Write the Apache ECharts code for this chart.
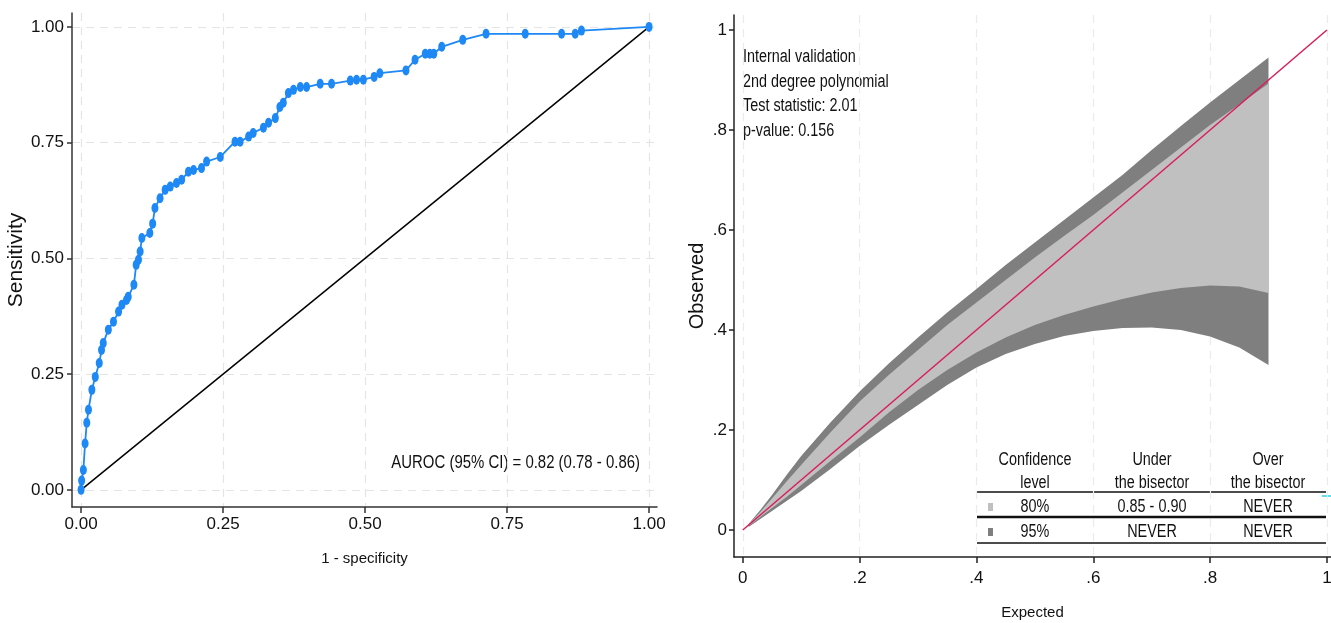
<!DOCTYPE html>
<html>
<head>
<meta charset="utf-8">
<script src="https://cdn.jsdelivr.net/npm/echarts@6/dist/echarts.min.js"></script>
<style>
  html, body { margin: 0; padding: 0; background: #fff; }
  #main { width: 1331px; height: 623px; }
</style>
</head>
<body>
<div id="main"></div>
<script>
// ROC curve (left)
var fpr = [0, 0.001, 0.004, 0.007, 0.01, 0.013, 0.019, 0.025, 0.032, 0.036, 0.039, 0.048, 0.057, 0.066, 0.072, 0.08, 0.083, 0.093, 0.097, 0.101, 0.104, 0.107, 0.121, 0.126, 0.13, 0.139, 0.148, 0.157, 0.168, 0.177, 0.189, 0.198, 0.212, 0.221, 0.245, 0.271, 0.28, 0.295, 0.303, 0.321, 0.33, 0.342, 0.35, 0.356, 0.365, 0.374, 0.386, 0.397, 0.421, 0.441, 0.474, 0.485, 0.497, 0.516, 0.526, 0.572, 0.588, 0.606, 0.614, 0.621, 0.635, 0.672, 0.713, 0.782, 0.846, 0.87, 0.881, 1]
var tpr = [0, 0.02, 0.043, 0.1, 0.145, 0.173, 0.216, 0.244, 0.274, 0.302, 0.317, 0.346, 0.363, 0.385, 0.4, 0.41, 0.417, 0.443, 0.486, 0.497, 0.515, 0.544, 0.555, 0.575, 0.609, 0.63, 0.648, 0.655, 0.663, 0.67, 0.687, 0.691, 0.695, 0.709, 0.719, 0.752, 0.752, 0.763, 0.771, 0.782, 0.793, 0.803, 0.827, 0.836, 0.857, 0.864, 0.87, 0.87, 0.877, 0.877, 0.884, 0.886, 0.886, 0.892, 0.9, 0.906, 0.929, 0.942, 0.942, 0.942, 0.957, 0.972, 0.985, 0.985, 0.985, 0.985, 0.992, 1]
var refX = [0, 1]
var refY = [0, 1]
var rocTicks = [0, 0.25, 0.5, 0.75, 1]
var aurocText = 'AUROC (95% CI) = 0.82 (0.78 - 0.86)'

// calibration belt (right)
var beltX = [0.01, 0.03, 0.05, 0.075, 0.1, 0.15, 0.2, 0.25, 0.3, 0.35, 0.4, 0.45, 0.5, 0.55, 0.6, 0.65, 0.7, 0.75, 0.8, 0.85, 0.9]
var upper95 = [0.012, 0.04, 0.07, 0.11, 0.148, 0.215, 0.277, 0.333, 0.385, 0.435, 0.482, 0.53, 0.575, 0.62, 0.665, 0.71, 0.76, 0.808, 0.855, 0.9, 0.945]
var upper80 = [0.011, 0.036, 0.063, 0.097, 0.13, 0.195, 0.257, 0.31, 0.36, 0.41, 0.455, 0.5, 0.545, 0.588, 0.63, 0.675, 0.72, 0.765, 0.81, 0.851, 0.893]
var lower80 = [0.008, 0.026, 0.044, 0.066, 0.09, 0.138, 0.185, 0.235, 0.28, 0.32, 0.355, 0.385, 0.41, 0.43, 0.447, 0.462, 0.475, 0.484, 0.489, 0.487, 0.474]
var lower95 = [0.006, 0.022, 0.038, 0.058, 0.078, 0.122, 0.168, 0.21, 0.25, 0.29, 0.325, 0.352, 0.372, 0.388, 0.398, 0.404, 0.405, 0.4, 0.387, 0.365, 0.33]
var bisectorX = [0, 1]
var calTicks = [0, 0.2, 0.4, 0.6, 0.8, 1]
var infoLines = ['Internal validation', '2nd degree polynomial', 'Test statistic: 2.01', 'p-value: 0.156']
var tableHead = [['Confidence', 'level'], ['Under', 'the bisector'], ['Over', 'the bisector']]
var tableRows = [['80%', '0.85 - 0.90', 'NEVER'], ['95%', 'NEVER', 'NEVER']]

var FONT = "'Liberation Sans', Arial, sans-serif"
var INK = '#111'
var light = '#c0c0c0'
var dark = '#7f7f7f'

var myChart = echarts.init(document.getElementById('main'))

function stataLabel (v) {
  if (v === 0 || v === 1) return String(v)
  return String(v).replace(/^0/, '')
}

function renderBand (params, api) {
  var up = params.dataIndex === 0 ? upper95 : upper80
  var lo = params.dataIndex === 0 ? lower95 : lower80
  var pts = []
  for (var i = 0; i < beltX.length; i++) pts.push(api.coord([beltX[i], up[i]]))
  for (var j = beltX.length - 1; j >= 0; j--) pts.push(api.coord([beltX[j], lo[j]]))
  return {
    type: 'polygon',
    shape: { points: pts },
    style: { fill: params.dataIndex === 0 ? dark : light, stroke: null }
  }
}

// narrow text (the source font is condensed)
function txt (t, x, y, align, size, sx) {
  return {
    type: 'text', x: x, y: y, scaleX: sx || 0.8,
    style: { text: t, font: (size || 18) + 'px ' + FONT, fill: INK, align: align, verticalAlign: 'middle' }
  }
}

var graphics = []
infoLines.forEach(function (t, i) {
  graphics.push(txt(t, 743, 57 + i * 24.6, 'left', 18, 0.8))
})
var colX = [1035, 1152, 1268]
tableHead.forEach(function (h, c) {
  h.forEach(function (t, k) {
    graphics.push(txt(t, colX[c], 460 + k * 23, 'center', 18, 0.8))
  })
})
tableRows.forEach(function (r, i) {
  r.forEach(function (t, c) {
    graphics.push(txt(t, colX[c], 507 + i * 25, 'center', 18, 0.8))
  })
  graphics.push({ type: 'rect', shape: { x: 988, y: 503 + i * 25, width: 5, height: 8 }, style: { fill: i === 0 ? light : dark } })
})
;[[492, 1.5], [517, 2.5], [543, 1.5]].forEach(function (r) {
  graphics.push({ type: 'line', shape: { x1: 977, y1: r[0], x2: 1326, y2: r[0] }, style: { stroke: INK, lineWidth: r[1] } })
})
graphics.push({ type: 'line', shape: { x1: 1322, y1: 496, x2: 1331, y2: 496 }, style: { stroke: '#2ad4e0', lineWidth: 1.5 } })
graphics.push(txt(aurocText, 640, 463, 'right', 18, 0.83))

var axisText = { color: INK, fontSize: 17, fontFamily: FONT }
var dashed = { show: true, lineStyle: { color: '#e4e4e4', type: [8, 6], width: 1.2 } }

myChart.setOption({
  animation: false,
  backgroundColor: '#fff',
  grid: [
    { left: 72, top: 13, width: 585, height: 494, outerBoundsMode: 'none' },
    { left: 734, top: 15, width: 597, height: 542, outerBoundsMode: 'none' }
  ],
  xAxis: [
    {
      gridIndex: 0, type: 'value', min: -0.016, max: 1.014,
      name: '1 - specificity', nameLocation: 'middle', nameGap: 44,
      nameTextStyle: { color: INK, fontSize: 15, fontFamily: FONT },
      axisLine: { onZero: false, lineStyle: { color: '#333', width: 1.5 } },
      axisTick: { show: true, length: 6, lineStyle: { color: '#333', width: 1.5 }, customValues: rocTicks },
      axisLabel: Object.assign({ margin: 9, customValues: rocTicks, formatter: function (v) { return v.toFixed(2) } }, axisText),
      splitLine: dashed
    },
    {
      gridIndex: 1, type: 'value', min: -0.015, max: 1.007,
      name: 'Expected', nameLocation: 'middle', nameGap: 48,
      nameTextStyle: { color: INK, fontSize: 15, fontFamily: FONT },
      axisLine: { onZero: false, lineStyle: { color: '#222', width: 1.5 } },
      axisTick: { show: true, length: 6, lineStyle: { color: '#222', width: 1.5 }, customValues: calTicks },
      axisLabel: Object.assign({ margin: 13, customValues: calTicks, formatter: stataLabel }, axisText),
      splitLine: { show: true, lineStyle: { color: '#ebebeb', type: [8, 6], width: 1.2 } }
    }
  ],
  yAxis: [
    {
      gridIndex: 0, type: 'value', min: -0.037, max: 1.03,
      name: 'Sensitivity', nameLocation: 'middle', nameGap: 44, nameRotate: 90,
      nameTextStyle: { color: INK, fontSize: 21, fontFamily: FONT },
      axisLine: { show: true, onZero: false, lineStyle: { color: '#333', width: 1.5 } },
      axisTick: { show: true, length: 5, lineStyle: { color: '#333', width: 1.5 }, customValues: rocTicks },
      axisLabel: Object.assign({ margin: 8, customValues: rocTicks, formatter: function (v) { return v.toFixed(2) } }, axisText),
      splitLine: dashed
    },
    {
      gridIndex: 1, type: 'value', min: -0.054, max: 1.03,
      name: 'Observed', nameLocation: 'middle', nameGap: 27, nameRotate: 90,
      nameTextStyle: { color: INK, fontSize: 20, fontFamily: FONT },
      axisLine: { show: true, onZero: false, lineStyle: { color: '#222', width: 1.5 } },
      axisTick: { show: true, length: 5, lineStyle: { color: '#222', width: 1.5 }, customValues: calTicks },
      axisLabel: Object.assign({ margin: 7, customValues: calTicks, formatter: stataLabel }, axisText),
      splitLine: { show: false }
    }
  ],
  series: [
    {
      type: 'line', xAxisIndex: 0, yAxisIndex: 0,
      data: fpr.map(function (x, i) { return [x, tpr[i]] }),
      symbol: 'circle', symbolSize: [7, 10], showAllSymbol: true,
      lineStyle: { color: '#1e88f5', width: 1.8 },
      itemStyle: { color: '#1e88f5' }, z: 3
    },
    {
      type: 'line', xAxisIndex: 0, yAxisIndex: 0,
      data: refX.map(function (x, i) { return [x, refY[i]] }),
      symbol: 'none', lineStyle: { color: '#000', width: 1.5 }, z: 2
    },
    {
      type: 'custom', xAxisIndex: 1, yAxisIndex: 1,
      data: [[0.5, 0.5], [0.5, 0.5]],
      renderItem: renderBand, z: 1
    },
    {
      type: 'line', xAxisIndex: 1, yAxisIndex: 1,
      data: bisectorX.map(function (x) { return [x, x] }),
      symbol: 'none', lineStyle: { color: '#d81e5b', width: 1.5 }, z: 4
    }
  ],
  graphic: graphics
})

window.onresize = function () { myChart.resize() }
</script>
</body>
</html>
